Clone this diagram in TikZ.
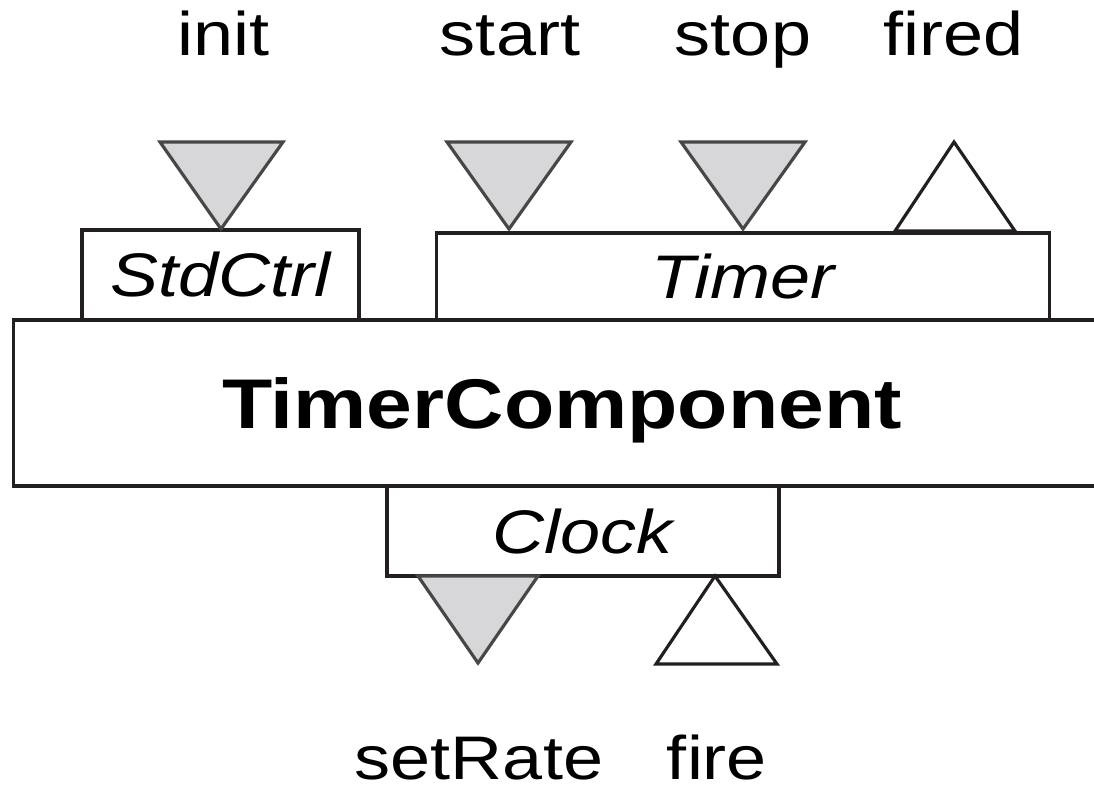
\documentclass[tikz,border=0pt]{standalone}
\usepackage{fontspec}
\setmainfont{Liberation Sans}[FakeStretch=1.17]
\usetikzlibrary{positioning}
\definecolor{ink}{HTML}{231F20}
\definecolor{portgray}{HTML}{D7D7D9}
\definecolor{portedge}{HTML}{474747}

\begin{document}
\begin{tikzpicture}[x=0.01cm, y=-0.01cm,
                          ifbox/.style={rectangle, draw=ink, line width=0.95pt, inner sep=0pt, font=\fontsize{17.5}{20}\selectfont\itshape},
                          compbox/.style={rectangle, draw=ink, line width=0.95pt, inner sep=0pt, text depth=0pt, font=\fontsize{20}{24}\selectfont\bfseries},
                          portlabel/.style={anchor=base, inner sep=0pt, font=\fontsize{17.5}{20}\selectfont},
                          inport/.style={draw=portedge, fill=portgray, line width=0.9pt},
                          outport/.style={draw=ink, line width=0.9pt},
                      ]
                      \useasboundingbox (0,0) rectangle (1094,790);
                      \clip (0,0) rectangle (1094,790);

                      %Nodes
                      \node[ifbox, minimum width=2.77cm, minimum height=0.90cm]   (stdctrl)   at (220.5,275)  {StdCtrl};
                      \node[ifbox, minimum width=6.12cm, minimum height=0.87cm]   (timer)     at (743,276.5)  {Timer};
                      \node[compbox, minimum width=10.96cm, minimum height=1.66cm] (comp)     at (562,403)    {TimerComponent};
                      \node[ifbox, minimum width=3.92cm, minimum height=0.90cm]   (clock)     at (583,531)    {Clock};

                      \node[portlabel]      (init)      at (224,55)     {init};
                      \node[portlabel]      (start)     at (510,55)     {start};
                      \node[portlabel]      (stop)      at (743,55)     {stop};
                      \node[portlabel]      (fired)     at (954,55)     {fired};
                      \node[portlabel]      (setrate)   at (479,779)    {setRate};
                      \node[portlabel]      (fire)      at (717,779)    {fire};

                      %Ports
                      \draw[inport]  (160,142) -- (283,142) -- (221,229) -- cycle;
                      \draw[inport]  (447,142) -- (571,142) -- (509,229) -- cycle;
                      \draw[inport]  (681,142) -- (805,142) -- (743,229) -- cycle;
                      \draw[outport] (895,231) -- (1015,231) -- (954,142) -- cycle;
                      \draw[inport]  (418,576) -- (538,576) -- (478,663) -- cycle;
                      \draw[outport] (656,664) -- (777,664) -- (715,576) -- cycle;
                  \end{tikzpicture}
\end{document}
